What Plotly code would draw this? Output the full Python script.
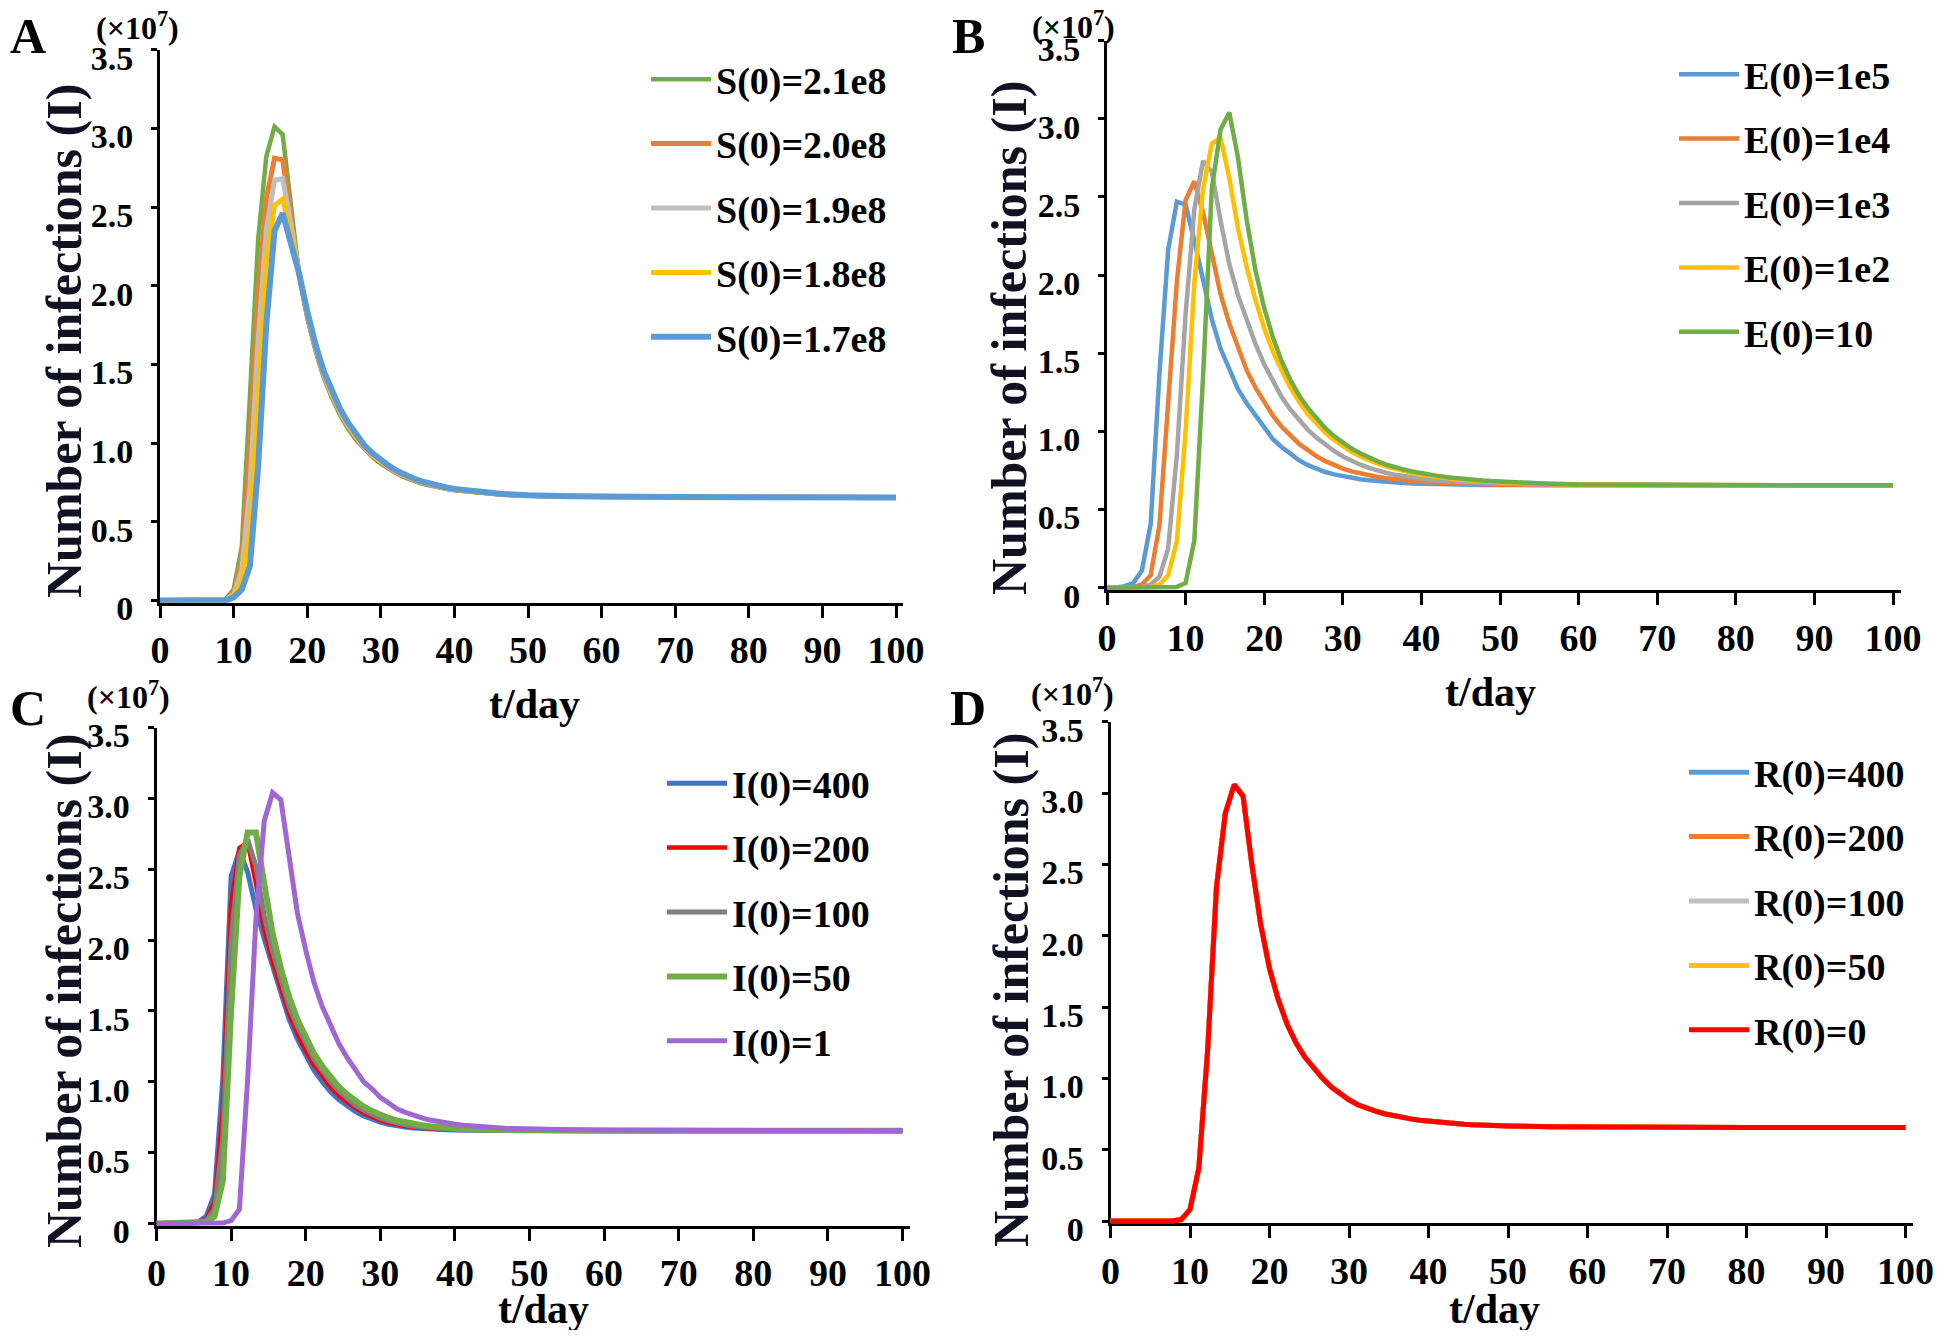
import plotly.graph_objects as go

# The page adds an 8 px body margin; the figure is sized to fit the 1944x1338 window.
PAGE_OFF = 8
W, H = 1944 - 2 * PAGE_OFF, 1338 - 2 * PAGE_OFF
FONT = "Liberation Serif, Times New Roman, serif"

# ---------------- data (values in units of 1e7) ----------------
t_days = [0, 1.11, 2.22, 3.33, 4.44, 5.56, 6.67, 7.78, 8.89, 10, 11.11, 12.22, 13.33, 14.44,
          15.56, 16.67, 17.78, 18.89, 20, 21.11, 22.22, 23.33, 24.44, 25.56, 26.67, 27.78,
          28.89, 30, 31.11, 32.22, 33.33, 34.44, 35.56, 36.67, 37.78, 38.89, 40, 41.11, 42.22,
          43.33, 44.44, 45.56, 46.67, 47.78, 48.89, 50, 55.56, 60, 70, 80, 90, 100]

x_ticks = [0, 10, 20, 30, 40, 50, 60, 70, 80, 90, 100]
y_ticks = [0, 0.5, 1.0, 1.5, 2.0, 2.5, 3.0, 3.5]
y_ticktext = ["0", "0.5", "1.0", "1.5", "2.0", "2.5", "3.0", "3.5"]

# Panel A
a_names = ["S(0)=2.1e8", "S(0)=2.0e8", "S(0)=1.9e8", "S(0)=1.8e8", "S(0)=1.7e8"]
a_s21 = [0, 0, 0, 0, 0, 0, 0, 0, 0.005, 0.07, 0.34, 1.30, 2.29, 2.82, 3.01, 2.96, 2.50, 2.07,
         1.80, 1.59, 1.42, 1.29, 1.18, 1.09, 1.02, 0.96, 0.91, 0.87, 0.835, 0.805, 0.78, 0.76,
         0.743, 0.73, 0.718, 0.709, 0.701, 0.695, 0.689, 0.684, 0.68, 0.676, 0.673, 0.67, 0.668,
         0.666, 0.661, 0.659, 0.657, 0.656, 0.655, 0.655]
a_s20 = [0, 0, 0, 0, 0, 0, 0, 0, 0.004, 0.05, 0.26, 1.00, 1.95, 2.55, 2.81, 2.80, 2.45, 2.07,
         1.81, 1.60, 1.43, 1.30, 1.19, 1.10, 1.03, 0.965, 0.915, 0.875, 0.84, 0.81, 0.785, 0.764,
         0.747, 0.733, 0.721, 0.711, 0.703, 0.697, 0.691, 0.686, 0.681, 0.677, 0.674, 0.671,
         0.669, 0.667, 0.662, 0.659, 0.657, 0.656, 0.655, 0.655]
a_s19 = [0, 0, 0, 0, 0, 0, 0, 0, 0.003, 0.04, 0.19, 0.72, 1.65, 2.35, 2.67, 2.68, 2.40, 2.07,
         1.82, 1.61, 1.44, 1.31, 1.20, 1.11, 1.035, 0.97, 0.92, 0.88, 0.845, 0.814, 0.789, 0.768,
         0.75, 0.736, 0.724, 0.713, 0.705, 0.698, 0.692, 0.687, 0.682, 0.678, 0.675, 0.672,
         0.669, 0.667, 0.662, 0.66, 0.657, 0.656, 0.655, 0.655]
a_s18 = [0, 0, 0, 0, 0, 0, 0, 0, 0.002, 0.03, 0.13, 0.45, 1.35, 2.15, 2.51, 2.55, 2.33, 2.07,
         1.83, 1.62, 1.45, 1.32, 1.21, 1.12, 1.04, 0.975, 0.925, 0.885, 0.85, 0.818, 0.792, 0.771,
         0.753, 0.739, 0.726, 0.715, 0.707, 0.70, 0.694, 0.688, 0.683, 0.679, 0.676, 0.673,
         0.67, 0.668, 0.662, 0.66, 0.657, 0.656, 0.655, 0.655]
a_s17 = [0, 0, 0, 0, 0, 0, 0, 0, 0.001, 0.02, 0.07, 0.22, 0.85, 1.75, 2.35, 2.46, 2.26, 2.08,
         1.84, 1.63, 1.46, 1.33, 1.22, 1.13, 1.05, 0.985, 0.935, 0.89, 0.855, 0.823, 0.797, 0.775,
         0.757, 0.742, 0.729, 0.718, 0.709, 0.702, 0.696, 0.69, 0.685, 0.681, 0.677, 0.674,
         0.671, 0.669, 0.663, 0.66, 0.658, 0.656, 0.655, 0.655]

# Panel B
b_names = ["E(0)=1e5", "E(0)=1e4", "E(0)=1e3", "E(0)=1e2", "E(0)=10"]
b_e1e5 = [0, 0, 0.01, 0.03, 0.11, 0.41, 1.37, 2.16, 2.47, 2.45,
          2.22, 1.97, 1.72, 1.53, 1.40, 1.27, 1.18, 1.10, 1.02, 0.95,
          0.90, 0.853, 0.815, 0.784, 0.76, 0.74, 0.725, 0.713, 0.702, 0.694,
          0.688, 0.682, 0.677, 0.673, 0.67, 0.667, 0.665, 0.663, 0.662, 0.661,
          0.66, 0.659, 0.658, 0.657, 0.657, 0.656,
          0.656, 0.655, 0.655, 0.655, 0.655, 0.655]
b_e1e4 = [0, 0, 0, 0.005, 0.02, 0.08, 0.40, 1.15, 1.96, 2.48,
          2.60, 2.40, 2.15, 1.88, 1.69, 1.53, 1.39, 1.28, 1.19, 1.10,
          1.03, 0.97, 0.92, 0.88, 0.84, 0.81, 0.785, 0.762, 0.744, 0.73,
          0.718, 0.708, 0.70, 0.693, 0.687, 0.682, 0.678, 0.674, 0.671, 0.668,
          0.666, 0.664, 0.662, 0.661, 0.66, 0.659,
          0.657, 0.656, 0.655, 0.655, 0.655, 0.655]
b_e1e3 = [0, 0, 0, 0, 0.005, 0.02, 0.07, 0.25, 0.85, 1.75,
          2.42, 2.73, 2.66, 2.35, 2.07, 1.87, 1.71, 1.56, 1.43, 1.32,
          1.22, 1.14, 1.07, 1.01, 0.96, 0.915, 0.875, 0.84, 0.81, 0.787,
          0.766, 0.748, 0.734, 0.722, 0.712, 0.704, 0.697, 0.691, 0.686, 0.682,
          0.678, 0.675, 0.672, 0.67, 0.668, 0.666,
          0.661, 0.658, 0.656, 0.655, 0.655, 0.655]
b_e1e2 = [0, 0, 0, 0, 0, 0.005, 0.02, 0.08, 0.30, 1.00,
          1.95, 2.55, 2.84, 2.88, 2.62, 2.30, 2.05, 1.84, 1.66, 1.51,
          1.39, 1.28, 1.19, 1.11, 1.05, 0.99, 0.945, 0.905, 0.87, 0.84,
          0.815, 0.793, 0.775, 0.759, 0.745, 0.733, 0.723, 0.714, 0.706, 0.70,
          0.694, 0.689, 0.685, 0.681, 0.678, 0.675,
          0.665, 0.66, 0.657, 0.656, 0.655, 0.655]
b_e10 = [0, 0, 0, 0, 0, 0, 0, 0, 0.005, 0.03,
         0.30, 1.35, 2.55, 2.93, 3.04, 2.75, 2.35, 2.03, 1.79, 1.60,
         1.45, 1.33, 1.23, 1.15, 1.08, 1.02, 0.97, 0.93, 0.89, 0.86,
         0.83, 0.808, 0.788, 0.77, 0.756, 0.743, 0.732, 0.722, 0.714, 0.707,
         0.70, 0.695, 0.69, 0.686, 0.682, 0.679,
         0.667, 0.661, 0.657, 0.656, 0.655, 0.655]

# Panel C
c_names = ["I(0)=400", "I(0)=200", "I(0)=100", "I(0)=50", "I(0)=1"]
c_i400 = [0, 0, 0, 0, 0, 0.01, 0.05, 0.21, 1.02, 2.45,
          2.63, 2.48, 2.22, 2.01, 1.81, 1.62, 1.44, 1.30, 1.18, 1.08,
          1.00, 0.93, 0.875, 0.83, 0.79, 0.758, 0.733, 0.715, 0.70, 0.688,
          0.68, 0.674, 0.669, 0.666, 0.663, 0.661, 0.66, 0.659, 0.658, 0.657,
          0.657, 0.656, 0.656, 0.656, 0.655, 0.655,
          0.655, 0.655, 0.655, 0.655, 0.655, 0.655]
c_i200 = [0, 0, 0, 0, 0, 0.005, 0.03, 0.15, 0.80, 2.25,
          2.65, 2.69, 2.40, 2.08, 1.85, 1.66, 1.48, 1.34, 1.22, 1.12,
          1.04, 0.965, 0.905, 0.855, 0.815, 0.78, 0.752, 0.73, 0.712, 0.698,
          0.688, 0.68, 0.674, 0.669, 0.666, 0.663, 0.661, 0.66, 0.659, 0.658,
          0.657, 0.657, 0.656, 0.656, 0.656, 0.656,
          0.655, 0.655, 0.655, 0.655, 0.655, 0.655]
c_i100 = [0, 0, 0, 0, 0, 0.003, 0.02, 0.10, 0.60, 2.00,
          2.60, 2.71, 2.52, 2.17, 1.92, 1.71, 1.53, 1.39, 1.27, 1.16,
          1.08, 1.00, 0.935, 0.88, 0.835, 0.798, 0.768, 0.744, 0.724, 0.708,
          0.696, 0.687, 0.68, 0.674, 0.67, 0.666, 0.663, 0.661, 0.66, 0.659,
          0.658, 0.657, 0.657, 0.656, 0.656, 0.656,
          0.655, 0.655, 0.655, 0.655, 0.655, 0.655]
c_i50 = [0, 0, 0, 0, 0, 0.002, 0.01, 0.05, 0.30, 1.50,
         2.45, 2.76, 2.76, 2.40, 2.05, 1.80, 1.60, 1.44, 1.31, 1.20,
         1.11, 1.03, 0.965, 0.91, 0.865, 0.825, 0.793, 0.766, 0.745, 0.727,
         0.713, 0.702, 0.693, 0.686, 0.68, 0.675, 0.671, 0.668, 0.665, 0.663,
         0.662, 0.66, 0.659, 0.658, 0.657, 0.657,
         0.656, 0.655, 0.655, 0.655, 0.655, 0.655]
c_i1 = [0, 0, 0, 0, 0, 0, 0, 0, 0.003, 0.02,
        0.10, 1.02, 2.15, 2.84, 3.04, 2.99, 2.57, 2.19, 1.93, 1.70,
        1.53, 1.39, 1.27, 1.17, 1.08, 1.00, 0.95, 0.89, 0.85, 0.81,
        0.785, 0.762, 0.745, 0.73, 0.718, 0.709, 0.70, 0.694, 0.688, 0.683,
        0.679, 0.675, 0.672, 0.67, 0.668, 0.666,
        0.661, 0.659, 0.657, 0.656, 0.655, 0.655]

# Panel D (all five initial-R values give the same curve)
d_names = ["R(0)=400", "R(0)=200", "R(0)=100", "R(0)=50", "R(0)=0"]
d_curve = [0, 0, 0, 0, 0, 0, 0, 0, 0.01, 0.08,
           0.37, 1.20, 2.34, 2.86, 3.06, 2.98, 2.50, 2.08, 1.77, 1.55,
           1.38, 1.25, 1.15, 1.07, 1.00, 0.94, 0.89, 0.85, 0.815, 0.79,
           0.77, 0.752, 0.738, 0.726, 0.716, 0.707, 0.70, 0.694, 0.688, 0.683,
           0.679, 0.675, 0.672, 0.67, 0.668, 0.666,
           0.661, 0.659, 0.657, 0.656, 0.655, 0.655]

# ---------------- styling ----------------
a_colors = ["#70AD47", "#ED7D31", "#BFBFBF", "#FFC000", "#5B9BD5"]
a_widths = [4.5, 5, 5, 5, 6]
b_colors = ["#5B9BD5", "#ED7D31", "#A5A5A5", "#FFC000", "#70AD47"]
b_widths = [4.5, 4.5, 4.5, 4.5, 4.5]
c_colors = ["#4472C4", "#FF0000", "#7F7F7F", "#70AD47", "#A066D3"]
c_widths = [5, 4.5, 5, 6, 5]
d_colors = ["#5B9BD5", "#ED7D31", "#BFBFBF", "#FFC000", "#FF0000"]
d_widths = [5, 5, 5, 5, 5]


def px_x(p):
    return (p - PAGE_OFF) / W


def px_y(p):
    return 1 - (p - PAGE_OFF) / H


# panel geometry in window pixels: x0 px, px per day, y0 px, px per unit
panels = [
    dict(ax="", x0=160.0, sx=7.36, y0=600.5, sy=157.4,
         names=a_names, data=[a_s21, a_s20, a_s19, a_s18, a_s17],
         colors=a_colors, widths=a_widths, legend="legend",
         leg=(646, 48)),
    dict(ax="2", x0=1107.0, sx=7.86, y0=587.7, sy=156.3,
         names=b_names, data=[b_e1e5, b_e1e4, b_e1e3, b_e1e2, b_e10],
         colors=b_colors, widths=b_widths, legend="legend2",
         leg=(1674, 43)),
    dict(ax="3", x0=156.5, sx=7.46, y0=1223.5, sy=141.7,
         names=c_names, data=[c_i400, c_i200, c_i100, c_i50, c_i1],
         colors=c_colors, widths=c_widths, legend="legend3",
         leg=(662, 752)),
    dict(ax="4", x0=1110.5, sx=7.95, y0=1221.0, sy=142.6,
         names=d_names, data=[d_curve, d_curve, d_curve, d_curve, d_curve],
         colors=d_colors, widths=d_widths, legend="legend4",
         leg=(1684, 741)),
]

XMAX = 101
YMIN, YMAX = -0.015, 3.5

fig = go.Figure()
layout = dict(
    width=W, height=H,
    margin=dict(l=0, r=0, t=0, b=0, autoexpand=False),
    paper_bgcolor="white", plot_bgcolor="white",
    font=dict(family=FONT, color="black"),
    annotations=[],
)

for p in panels:
    ax = p["ax"]
    xname = "xaxis" + ax
    yname = "yaxis" + ax
    xr = "x" + ax
    yr = "y" + ax
    left = p["x0"]
    right = p["x0"] + XMAX * p["sx"]
    top = p["y0"] - YMAX * p["sy"]
    bottom = p["y0"] - YMIN * p["sy"]
    layout[xname] = dict(
        domain=[px_x(left), px_x(right)], range=[0, XMAX], anchor=yr,
        tickvals=x_ticks, ticks="outside", ticklen=12, tickwidth=3, tickcolor="black",
        showline=True, linewidth=3, linecolor="black", showgrid=False, zeroline=False,
        tickfont=dict(family=FONT, size=38, color="black", weight="bold"),
        ticklabelstandoff=0, layer="below traces", fixedrange=True,
    )
    layout[yname] = dict(
        domain=[px_y(bottom), px_y(top)], range=[YMIN, YMAX], anchor=xr,
        tickvals=y_ticks, ticktext=y_ticktext, ticks="outside", ticklen=6, tickwidth=3,
        tickcolor="black", showline=True, linewidth=3, linecolor="black",
        showgrid=False, zeroline=False,
        tickfont=dict(family=FONT, size=34, color="black", weight="bold"),
        ticklabelstandoff=11, ticklabelshift=8, layer="below traces", fixedrange=True,
    )
    for i, (name, ys) in enumerate(zip(p["names"], p["data"])):
        fig.add_trace(go.Scatter(
            x=t_days, y=ys, mode="lines", name=name,
            line=dict(color=p["colors"][i], width=p["widths"][i]),
            xaxis=xr, yaxis=yr, legend=p["legend"],
            legendgroup=p["legend"] + str(i), showlegend=True,
        ))
    lx, ly = p["leg"]
    layout[p["legend"]] = dict(
        x=px_x(lx), y=px_y(ly), xanchor="left", yanchor="top",
        bgcolor="rgba(0,0,0,0)", borderwidth=0,
        font=dict(family=FONT, size=38, color="black", weight="bold"),
        tracegroupgap=12, itemwidth=60, traceorder="grouped",
    )


def ann(text, xp, yp, size, angle=0, color="black"):
    layout["annotations"].append(dict(
        text=text, x=px_x(xp), y=px_y(yp), xref="paper", yref="paper",
        xanchor="center", yanchor="middle", showarrow=False, textangle=angle,
        font=dict(family=FONT, size=size, color=color, weight="bold"),
    ))


# panel letters
for letter, xp, yp in [("A", 28, 36), ("B", 968, 36), ("C", 28, 708), ("D", 968, 708)]:
    ann(letter, xp, yp, 50)
# scale factors
for xp, yp in [(137, 26), (1073, 25), (128, 695), (1072, 692)]:
    ann("(×10<sup>7</sup>)", xp, yp, 32)
# y titles
for xp, yp in [(64, 341), (1009, 338), (64, 991), (1011, 990)]:
    ann("Number of infections (I)", xp, yp, 50, angle=-90, color="#111122")
# x titles
for xp, yp in [(534, 704), (1490, 692), (543, 1309), (1494, 1309)]:
    ann("t/day", xp, yp, 42)

fig.update_layout(**layout)
fig.write_html("out.html")
